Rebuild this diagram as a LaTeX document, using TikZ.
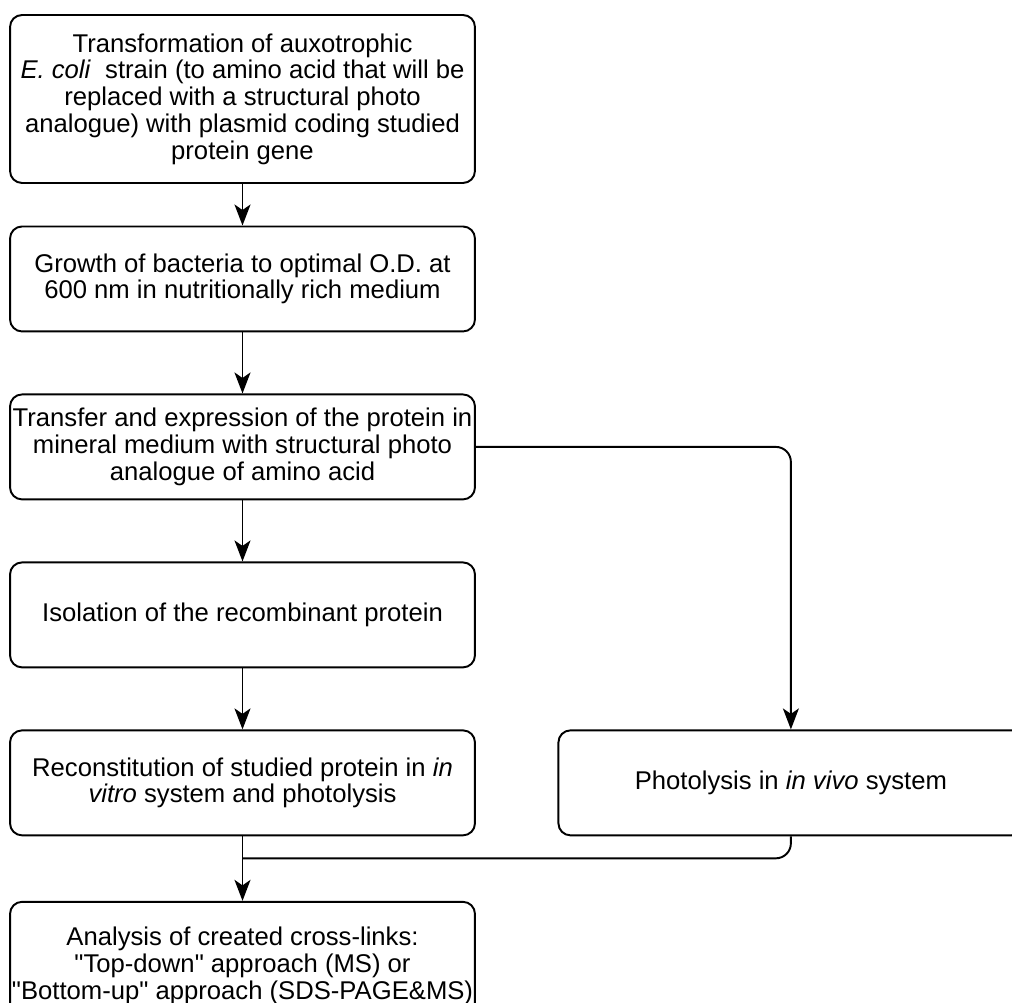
\documentclass[tikz,border=0pt]{standalone}
\usepackage{fontspec}
\setmainfont{Liberation Sans}[Ligatures=TeXOff]
\usetikzlibrary{arrows.meta}
\tikzset{%
  >={Stealth[length=4.2mm,width=3.2mm,inset=1.1mm]},
  % Specifications for style of nodes:
            base/.style = {rectangle, rounded corners=2.4mm, draw=black,
                           line width=1.1pt, minimum width=9.3cm,
                           minimum height=2.1cm, inner xsep=0pt,
                           text centered, align=center,
                           font=\fontsize{14.6}{15.2}\selectfont},
        stagebox/.style = {base},
         tallbox/.style = {base, minimum height=3.36cm},
       resultbox/.style = {base, minimum height=2.56cm},
}

\begin{document}
\begin{tikzpicture}[x=0.02cm, y=-0.02cm, node distance=3.36cm,
    line width=1.1pt]
  \useasboundingbox (0,0) rectangle (1012,1003);
  % Specification of nodes (position, etc.)

  \node (transform)     [tallbox] at (242.5,99) {Transformation of auxotrophic\\
                         \textit{E. coli}\ \ strain (to amino acid that will be\\
                         replaced with a structural photo\\
                         analogue) with plasmid coding studied\\
                         protein gene};
  \node (growth)        [stagebox, below of=transform, yshift=-0.24cm] {Growth of bacteria to optimal O.D. at\\
                         600 nm in nutritionally rich medium};
  \node (transfer)      [stagebox, below of=growth] {Transfer and expression of the protein in\\
                         mineral medium with structural photo\\
                         analogue of amino acid};
  \node (isolation)     [stagebox, below of=transfer] {Isolation of the recombinant protein};
  \node (recon)         [stagebox, below of=isolation] {Reconstitution of studied protein in \textit{in}\\
                         \textit{vitro} system and photolysis};
  \node (photo)         [stagebox, right of=recon, xshift=7.61cm] {Photolysis in \textit{in vivo} system};
  \node (analysis)      [resultbox, below of=recon, yshift=-0.3cm] {Analysis of created cross-links:\\
                         "Top-down" approach (MS) or\\
                         "Bottom-up" approach (SDS-PAGE\&MS)};
  \coordinate (merge)   at ([yshift=-0.44cm]recon.south);

  \draw[->]             (transform) -- (growth);
  \draw[->]             (growth) -- (transfer);
  \draw[->]             (transfer) -- (isolation);
  \draw[->]             (isolation) -- (recon);
  \draw[->]             (recon) -- (analysis);
  \draw[->, rounded corners=0.3cm] (transfer.east) -| (photo.north);
  \draw[rounded corners=0.3cm]     (photo.south) |- (merge);

\end{tikzpicture}
\end{document}
